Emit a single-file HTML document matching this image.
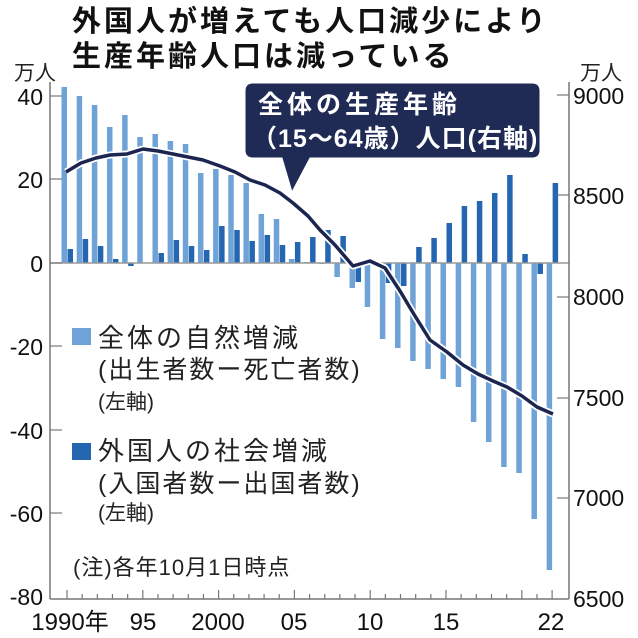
<!DOCTYPE html>
<html><head><meta charset="utf-8"><style>
html,body{margin:0;padding:0;background:#fff;}
svg{display:block;font-family:"Liberation Sans","Noto Sans CJK JP",sans-serif;}
</style></head><body>
<svg id="s" width="638" height="638" viewBox="0 0 638 638" xmlns="http://www.w3.org/2000/svg">
<rect width="638" height="638" fill="#fff"/>
<g font-size="29" fill="#111" font-weight="bold" letter-spacing="3">
<text x="72" y="31">外国人が増えても人口減少により</text>
<text x="72" y="66">生産年齢人口は減っている</text>
</g>
<text x="14" y="80" font-size="21" fill="#222">万人</text>
<text x="580" y="80" font-size="21" fill="#222">万人</text>
<g id="bars"></g>
<line x1="50" y1="263" x2="569" y2="263" stroke="#999" stroke-width="1.5"/>
<line x1="50" y1="82" x2="50" y2="599" stroke="#777" stroke-width="1.5"/>
<line x1="569" y1="82" x2="569" y2="599" stroke="#777" stroke-width="1.5"/>
<line x1="50" y1="599" x2="569" y2="599" stroke="#777" stroke-width="1.5"/>
<g id="ticks" stroke="#777" stroke-width="1.2"></g>
<g font-size="23" fill="#111" text-anchor="end">
<text x="43" y="105">40</text><text x="43" y="188">20</text><text x="43" y="272">0</text>
<text x="43" y="355">-20</text><text x="43" y="439">-40</text><text x="43" y="522">-60</text><text x="43" y="605">-80</text>
</g>
<g font-size="23" fill="#111">
<text x="573" y="104">9000</text><text x="573" y="204">8500</text><text x="573" y="305">8000</text>
<text x="573" y="406">7500</text><text x="573" y="506">7000</text><text x="573" y="607">6500</text>
</g>
<g font-size="24" fill="#111" text-anchor="middle">
<text x="70" y="630">1990年</text><text x="143" y="630">95</text><text x="218" y="630">2000</text>
<text x="294" y="630">05</text><text x="370" y="630">10</text><text x="446" y="630">15</text><text x="551" y="630">22</text>
</g>
<polyline id="ln" fill="none" stroke="#fff" stroke-width="7" stroke-linejoin="round"/>
<polyline id="ln2" fill="none" stroke="#1c2550" stroke-width="3.5" stroke-linejoin="round"/>
<path d="M253,83 H532 Q540,83 540,91 V150 Q540,158 532,158 H310 L292,192 L282,158 H253 Q245,158 245,150 V91 Q245,83 253,83 Z" fill="#1f2b55" stroke="#fff" stroke-width="1"/>
<g font-size="25" font-weight="bold" fill="#fff">
<text x="258" y="113" letter-spacing="4">全体の生産年齢</text>
<text x="252" y="147" letter-spacing="1">（15～64歳）人口(右軸)</text>
</g>
<rect x="72" y="328" width="19" height="17" fill="#6fa3d8"/>
<rect x="72" y="443" width="19" height="17" fill="#2566b0"/>
<g font-size="26" fill="#222" letter-spacing="3">
<text x="98" y="347">全体の自然増減</text>
<text x="98" y="378" font-size="25" letter-spacing="2">(出生者数ー死亡者数)</text>
<text x="98" y="409" font-size="21" letter-spacing="0">(左軸)</text>
<text x="98" y="460">外国人の社会増減</text>
<text x="98" y="492" font-size="25" letter-spacing="2">(入国者数ー出国者数)</text>
<text x="98" y="520" font-size="21" letter-spacing="0">(左軸)</text>
<text x="73" y="575" font-size="22" letter-spacing="1">(注)各年10月1日時点</text>
</g>
</svg>
<script>
var NS="http://www.w3.org/2000/svg";
function el(p,t,a){var e=document.createElementNS(NS,t);for(var k in a)e.setAttribute(k,a[k]);p.appendChild(e);return e;}
var Z=263;
var L=[87,96,105,127,115,137,134,141,144,173,169,175,183,214,219,259,262,264,277,288,307,339,348,361,369,379,387,422,442,467,473,519,570];
var D=[249,239,246,259,266,263,253,240,246,250,226,230,241,235,245,242,237,230,236,282,263,283,286,247,238,223,206,201,193,175,254,274,183];
var b=document.getElementById("bars");
for(var i=0;i<33;i++){var t=67+15.16*i;
var y=L[i];el(b,"rect",{x:t-5.5,y:Math.min(y,Z),width:5.5,height:Math.abs(y-Z),fill:"#6fa3d8"});
y=D[i];el(b,"rect",{x:t+0.5,y:Math.min(y,Z),width:5.5,height:Math.abs(y-Z),fill:"#2566b0"});}
var tk=document.getElementById("ticks");
for(var i=0;i<33;i++){var t=67+15.16*i;var big=(i%5==0||i==32);el(tk,"line",{x1:t,y1:599,x2:t,y2:big?590:594});}
[96,179,263,346,430,513].forEach(function(y){el(tk,"line",{x1:50,y1:y,x2:62,y2:y});});
[95,195,297,398,498].forEach(function(y){el(tk,"line",{x1:569,y1:y,x2:557,y2:y});});
var P="66,172 81,163 96,158 110,155 127,154 143,149 158,151 173,154 188,157 203,160 220,166 235,172 250,180 265,185 280,193 293,203 308,216 320,230 335,245 353,266 370,261 385,268 400,291 415,316 430,340 447,352 463,365 478,374 493,381 507,387 522,396 537,407 553,414";
document.getElementById("ln").setAttribute("points",P);
document.getElementById("ln2").setAttribute("points",P);
</script>
</body></html>
